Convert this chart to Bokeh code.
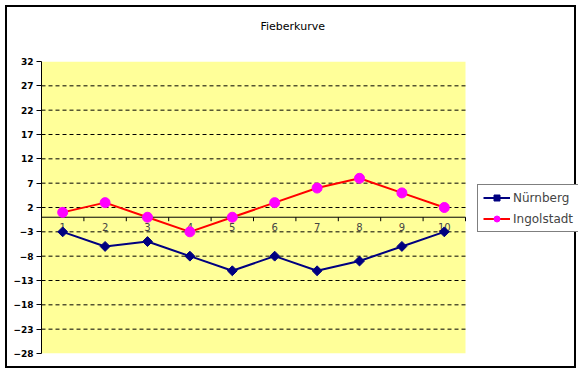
from bokeh.plotting import figure
from bokeh.models import FixedTicker, Legend, LegendItem, Range1d, BoxAnnotation, Title
from bokeh.embed import file_html
from bokeh.resources import INLINE
from bokeh.core.properties import value
import math

# ---- data ----
categories = ["1", "2", "3", "4", "5", "6", "7", "8", "9", "10"]
nuernberg = [-3, -6, -5, -8, -11, -8, -11, -9, -6, -3]
ingolstadt = [1, 3, 0, -3, 0, 3, 6, 8, 5, 2]
y_ticks = [-28, -23, -18, -13, -8, -3, 2, 7, 12, 17, 22, 27, 32]
title_text = "Fieberkurve"
series_names = ["Nürnberg", "Ingolstadt"]

xs = list(range(1, len(categories) + 1))
x_lo, x_hi = xs[0] - 0.5, xs[-1] + 0.5
FONT = "DejaVu Sans"

# frame spans the plot area plus the legend area to its right
p = figure(width=571, height=363,
           x_range=Range1d(x_lo, 13.165),
           y_range=Range1d(y_ticks[0], y_ticks[-1]),
           output_backend="svg", toolbar_location=None,
           x_axis_location=None,
           min_border_left=34, min_border_right=0,
           min_border_top=54, min_border_bottom=17,
           background_fill_color="white", border_fill_color="white",
           outline_line_color=None)
p.styles = {"border": "2px solid black", "margin-left": "5px", "margin-top": "5px"}

p.title.text = title_text
p.title.align = "left"
p.title.offset = 219
p.title.standoff = 10
p.title.text_font = FONT
p.title.text_font_size = "11px"
p.title.text_font_style = "normal"
p.title.text_color = "black"
# blank spacer between title and plot area
p.add_layout(Title(text=" ", text_font_size="13px", standoff=7), "above")

# y axis
yax = p.yaxis[0]
yax.ticker = FixedTicker(ticks=y_ticks, minor_ticks=[])
yax.major_tick_in = 0
yax.major_tick_out = 5
yax.minor_tick_out = 0
yax.axis_line_color = "black"
yax.major_label_text_font = FONT
yax.major_label_text_font_size = "9px"
yax.major_label_text_font_style = "bold"
yax.major_label_text_color = "black"
yax.major_label_standoff = 3

p.xgrid.visible = False
p.ygrid.visible = False

# yellow plot area
p.add_layout(BoxAnnotation(left=x_lo, right=x_hi, bottom=y_ticks[0], top=y_ticks[-1],
                           fill_color="#FFFF99", fill_alpha=1, line_color=None,
                           level="underlay"))

# dashed horizontal gridlines
g = y_ticks[1:-1]
p.segment(x0=[x_lo] * len(g), y0=g, x1=[x_hi] * len(g), y1=g,
          line_color="black", line_width=1, line_dash="4 3")

# category axis drawn at y = 0
p.segment(x0=[x_lo], y0=[0], x1=[x_hi], y1=[0], line_color="black", line_width=1)
sep = [x + 0.5 for x in range(0, len(categories) + 1)]
p.ray(x=sep, y=[0] * len(sep), length=4, length_units="screen",
      angle=-math.pi / 2, line_color="black", line_width=1)
p.text(x=xs, y=[0] * len(xs), text=categories, text_font=value(FONT),
       text_font_size="10px", text_color="#444444", text_align="center",
       text_baseline="top", y_offset=6)

# series
l1 = p.line(xs, nuernberg, line_color="#000080", line_width=2)
m1 = p.scatter(xs, nuernberg, marker="square", size=7, angle=math.pi / 4,
               fill_color="#000080", line_color="#000080")
l2 = p.line(xs, ingolstadt, line_color="#FF0000", line_width=2)
m2 = p.scatter(xs, ingolstadt, marker="circle", size=10,
               fill_color="#FF00FF", line_color="#FF00FF")

legend = Legend(items=[LegendItem(label=series_names[0], renderers=[l1, m1]),
                       LegendItem(label=series_names[1], renderers=[l2, m2])],
                location=(436, 121), border_line_color="black", border_line_width=1,
                background_fill_color="white", background_fill_alpha=1,
                label_text_font=FONT, label_text_font_size="12px",
                glyph_width=27, glyph_height=15, label_height=15,
                spacing=6, padding=5, margin=0, label_standoff=3)
p.add_layout(legend)

open("out.html", "w").write(file_html(p, INLINE))
